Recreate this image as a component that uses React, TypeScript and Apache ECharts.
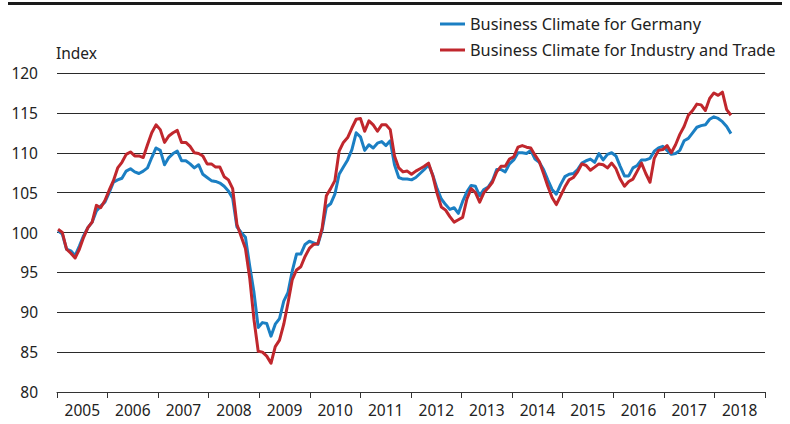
import React, { useEffect, useRef } from "react";
import * as echarts from "echarts";

const years = ["2005","2006","2007","2008","2009","2010","2011","2012","2013","2014","2015","2016","2017","2018"];
const yTicks = { min: 80, max: 120, interval: 5 };

// Monthly values, Jan 2005 .. Mar 2018 (2005 = 100)
const germany = [
  100.2, 99.8, 97.9, 97.7, 97.1, 98.3, 99.6, 100.6, 101.3, 102.7, 103.3, 103.8,
  105.0, 106.3, 106.6, 106.8, 107.7, 108.0, 107.6, 107.4, 107.7, 108.1, 109.4, 110.6,
  110.3, 108.5, 109.4, 109.9, 110.2, 109.0, 109.0, 108.6, 108.1, 108.5, 107.3, 106.9,
  106.5, 106.4, 106.2, 105.8, 105.2, 104.3, 100.7, 100.0, 99.4, 95.8, 92.5, 88.1,
  88.7, 88.6, 87.0, 88.5, 89.2, 91.4, 92.5, 95.2, 97.3, 97.3, 98.5, 98.9,
  98.7, 98.5, 100.3, 103.2, 103.6, 104.8, 107.3, 108.2, 109.1, 110.4, 112.5, 112.0,
  110.3, 111.0, 110.6, 111.2, 111.4, 110.9, 111.5, 108.5, 106.9, 106.7, 106.7, 106.6,
  106.9, 107.4, 107.9, 108.5, 107.2, 105.5, 104.2, 103.5, 102.9, 103.1, 102.4, 103.9,
  105.1, 105.9, 105.8, 104.6, 105.4, 105.7, 106.5, 107.9, 107.9, 107.6, 108.6, 109.1,
  110.0, 110.0, 109.9, 110.3, 109.2, 108.8, 107.9, 106.6, 105.4, 104.8, 106.0, 107.0,
  107.3, 107.4, 107.9, 108.7, 109.0, 109.2, 108.8, 109.9, 109.1, 109.8, 110.0, 109.6,
  108.3, 107.1, 107.1, 108.1, 108.4, 109.1, 109.1, 109.3, 110.2, 110.6, 110.8, 110.3,
  109.8, 109.9, 110.3, 111.5, 111.8, 112.5, 113.2, 113.4, 113.5, 114.2, 114.5, 114.3,
  113.9, 113.3, 112.4
];

const industryTrade = [
  100.4, 100.0, 97.9, 97.4, 96.8, 97.9, 99.4, 100.6, 101.3, 103.4, 103.1, 104.0,
  105.3, 106.5, 108.1, 108.8, 109.8, 110.1, 109.6, 109.6, 109.4, 111.0, 112.5, 113.5,
  112.9, 111.3, 112.1, 112.5, 112.8, 111.3, 111.3, 110.8, 110.0, 109.9, 109.6, 108.6,
  108.6, 108.2, 108.2, 107.0, 106.6, 105.5, 101.0, 99.5, 98.0, 94.3, 89.1, 85.1,
  85.0, 84.5, 83.6, 85.7, 86.5, 88.5, 91.2, 94.1, 95.3, 95.7, 97.0, 98.0,
  98.5, 98.6, 100.5, 104.6, 105.5, 106.5, 110.2, 111.3, 111.9, 113.1, 114.2, 114.3,
  112.7, 114.0, 113.5, 112.7, 113.5, 113.5, 112.9, 109.6, 108.1, 107.6, 107.7, 107.3,
  107.7, 108.0, 108.3, 108.7, 107.1, 104.9, 103.2, 102.8, 102.0, 101.3, 101.6, 101.9,
  104.2, 105.5, 105.0, 103.8, 105.0, 105.6, 106.3, 107.6, 108.3, 108.3, 109.2, 109.5,
  110.7, 110.9, 110.7, 110.6, 109.7, 108.9, 107.4, 105.8, 104.4, 103.5, 104.6, 105.7,
  106.6, 106.9, 107.6, 108.6, 108.4, 107.8, 108.2, 108.6, 108.5, 108.1, 108.7, 108.0,
  106.7, 105.8, 106.4, 106.7, 107.7, 108.7, 107.4, 106.3, 109.3, 110.3, 110.4, 110.9,
  110.0, 111.0, 112.3, 113.3, 114.7, 115.3, 116.1, 116.0, 115.3, 116.8, 117.5, 117.2,
  117.6, 115.4, 114.7
];

const seriesNames = ["Business Climate for Germany", "Business Climate for Industry and Trade"];
const colors = ["#1b7fc3", "#c0272d"];
const FONT = "'Noto Sans', 'Open Sans', sans-serif";

export default function App() {
  const ref = useRef<HTMLDivElement>(null);
  useEffect(() => {
    if (!ref.current) return;
    const chart = echarts.init(ref.current, null, { renderer: "svg" });
    const toPts = (arr: number[]) => arr.map((v, i) => [i, v]);
    chart.setOption({
      animation: false,
      backgroundColor: "#ffffff",
      textStyle: { fontFamily: FONT },
      grid: { left: 57, right: 25, top: 73, bottom: 32, containLabel: false },
      legend: {
        orient: "vertical",
        left: 435,
        top: 10,
        itemWidth: 25,
        itemHeight: 3,
        itemGap: 8,
        icon: "rect",
        textStyle: { fontSize: 16.3, color: "#222", fontFamily: FONT, lineHeight: 18 },
        data: seriesNames,
      },
      graphic: [
        { type: "rect", left: 8, top: 2, shape: { width: 774, height: 3 }, style: { fill: "#1a1a1a" } },
        { type: "text", left: 56, top: 45, style: { text: "Index", font: `15.5px ${FONT}`, fill: "#222" } },
      ],
      xAxis: [
        {
          type: "category",
          data: years,
          boundaryGap: true,
          axisLine: { show: true, lineStyle: { color: "#333", width: 1 } },
          axisTick: { show: true, inside: false, length: 6, lineStyle: { color: "#333" } },
          axisLabel: { fontSize: 15.5, color: "#222", margin: 10, fontFamily: FONT },
          splitLine: { show: false },
        },
        {
          type: "value",
          min: -0.25,
          max: 166,
          show: false,
          splitLine: { show: false },
        },
      ],
      yAxis: {
        type: "value",
        min: yTicks.min,
        max: yTicks.max,
        interval: yTicks.interval,
        axisLine: { show: false },
        axisTick: { show: false },
        axisLabel: { fontSize: 15.5, color: "#222", margin: 19, fontFamily: FONT },
        splitLine: { show: true, lineStyle: { color: "#2a2a2a", width: 1 } },
      },
      series: [
        {
          name: seriesNames[0],
          type: "line",
          xAxisIndex: 1,
          data: toPts(germany),
          showSymbol: false,
          symbol: "none",
          color: colors[0],
          lineStyle: { width: 3, color: colors[0], join: "round" },
          z: 3,
        },
        {
          name: seriesNames[1],
          type: "line",
          xAxisIndex: 1,
          data: toPts(industryTrade),
          showSymbol: false,
          symbol: "none",
          color: colors[1],
          lineStyle: { width: 3, color: colors[1], join: "round" },
          z: 4,
        },
      ],
    });
    return () => chart.dispose();
  }, []);
  return <div ref={ref} style={{ position: "absolute", left: 0, top: 0, width: 790, height: 424 }} />;
}
